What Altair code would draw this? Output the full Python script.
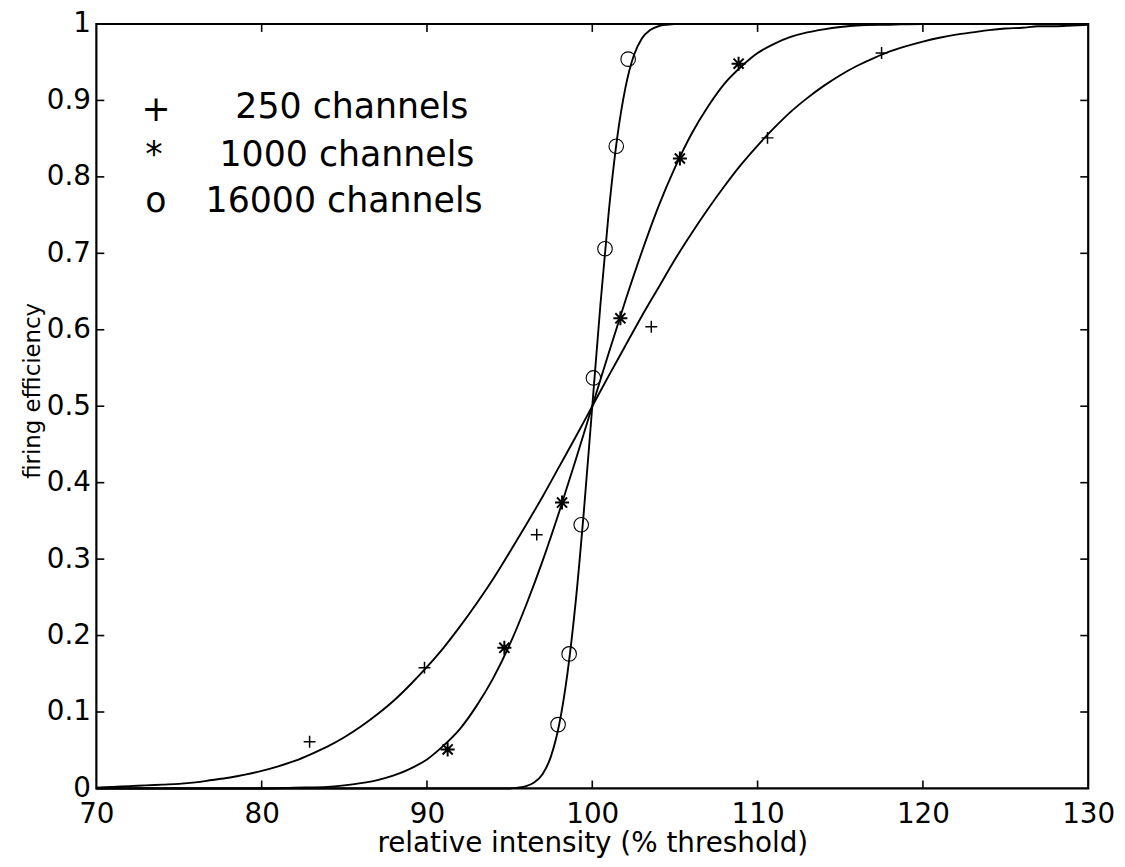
import altair as alt
import pandas as pd

# ---------------- values ----------------
series_names = ["250 channels", "1000 channels", "16000 channels"]
legend_symbols = ["+", "*", "o"]

x_tick_values = [70, 80, 90, 100, 110, 120, 130]
y_tick_values = [0, 0.1, 0.2, 0.3, 0.4, 0.5, 0.6, 0.7, 0.8, 0.9, 1.0]
inner_x_ticks = [80, 90, 100, 110, 120]
inner_y_ticks = [0.1, 0.2, 0.3, 0.4, 0.5, 0.6, 0.7, 0.8, 0.9]

# fitted curve, 250 channels
curve_x_250 = list(range(70, 131))
curve_y_250 = [0.001, 0.002, 0.003, 0.004, 0.005, 0.006, 0.008, 0.011, 0.014, 0.018,
               0.023, 0.029, 0.036, 0.045, 0.055, 0.067, 0.081, 0.097, 0.115, 0.136,
               0.159, 0.184, 0.212, 0.242, 0.274, 0.309, 0.345, 0.382, 0.421, 0.460,
               0.500, 0.540, 0.579, 0.618, 0.655, 0.692, 0.726, 0.758, 0.788, 0.816,
               0.841, 0.864, 0.885, 0.903, 0.919, 0.933, 0.945, 0.955, 0.964, 0.971,
               0.977, 0.982, 0.986, 0.989, 0.992, 0.994, 0.995, 0.997, 0.997, 0.998, 0.999]

# fitted curve, 1000 channels
curve_x_1000 = [70, 75, 80, 82, 84, 85, 86, 87, 88, 89, 90, 91, 92, 93, 94, 95, 96, 97,
                98, 99, 100, 101, 102, 103, 104, 105, 106, 107, 108, 109, 110, 111, 112,
                113, 114, 115, 116, 118, 120, 125, 130]
curve_y_1000 = [0.000, 0.000, 0.000, 0.001, 0.002, 0.004, 0.007, 0.011, 0.017, 0.026,
                0.038, 0.056, 0.078, 0.108, 0.144, 0.188, 0.240, 0.298, 0.362, 0.430,
                0.500, 0.570, 0.638, 0.702, 0.761, 0.812, 0.856, 0.892, 0.922, 0.944,
                0.962, 0.974, 0.983, 0.989, 0.993, 0.996, 0.998, 0.999, 1.000, 1.000, 1.000]

# fitted curve, 16000 channels
curve_x_16000 = [70, 94, 95, 95.5, 96, 96.5, 97, 97.5, 98, 98.5, 99, 99.5, 100, 100.5,
                 101, 101.5, 102, 102.5, 103, 103.5, 104, 104.5, 105, 106, 130]
curve_y_16000 = [0.000, 0.000, 0.000, 0.001, 0.003, 0.008, 0.019, 0.042, 0.084, 0.151,
                 0.245, 0.365, 0.500, 0.635, 0.755, 0.850, 0.916, 0.958, 0.981, 0.992,
                 0.997, 0.999, 1.000, 1.000, 1.000]

# measured points
pts_x_250 = [82.9, 89.85, 96.64, 103.57, 110.6, 117.5]
pts_y_250 = [0.061, 0.158, 0.332, 0.604, 0.851, 0.962]
pts_x_1000 = [91.25, 94.68, 98.17, 101.7, 105.3, 108.85]
pts_y_1000 = [0.051, 0.184, 0.374, 0.615, 0.824, 0.948]
pts_x_16000 = [97.93, 98.6, 99.33, 100.07, 100.77, 101.45, 102.17]
pts_y_16000 = [0.0835, 0.176, 0.345, 0.537, 0.706, 0.840, 0.954]

# ---------------- tables ----------------
curves = pd.concat([
    pd.DataFrame({"x": curve_x_250, "y": curve_y_250, "series": series_names[0]}),
    pd.DataFrame({"x": curve_x_1000, "y": curve_y_1000, "series": series_names[1]}),
    pd.DataFrame({"x": curve_x_16000, "y": curve_y_16000, "series": series_names[2]}),
], ignore_index=True)

pts250 = pd.DataFrame({"x": pts_x_250, "y": pts_y_250})
pts1000 = pd.DataFrame({"x": pts_x_1000, "y": pts_y_1000})
pts16000 = pd.DataFrame({"x": pts_x_16000, "y": pts_y_16000})

xticks_df = pd.DataFrame({"x": inner_x_ticks})
yticks_df = pd.DataFrame({"y": inner_y_ticks})

# ---------------- styling ----------------
W, H = 999, 770
FONT = "DejaVu Sans"
xs = alt.Scale(domain=[70, 130], nice=False, zero=False)
ys = alt.Scale(domain=[0, 1], nice=False, zero=False)

x_axis = alt.Axis(values=x_tick_values, title="relative intensity (% threshold)",
                  labelFlush=False, labelPadding=12, titleY=64,
                  titleBaseline="alphabetic", titleFontSize=28)
y_axis = alt.Axis(values=y_tick_values, title="firing efficiency", format=".1~f",
                  labelFlush=False, labelPadding=6, titleX=-52, titleY=369,
                  titleFontSize=23, titleAlign="center")

X = alt.X("x:Q", scale=xs, axis=x_axis)
Y = alt.Y("y:Q", scale=ys, axis=y_axis)

lines = alt.Chart(curves).mark_line(color="black", strokeWidth=1.9,
                                    interpolate="monotone").encode(
    x=X, y=Y, detail="series:N")

plus_marks = alt.Chart(pts250).mark_point(
    shape="M-1,0L1,0M0,-1L0,1", filled=False, stroke="black",
    strokeWidth=1.5, size=144, opacity=1).encode(x=X, y=Y)

star_marks = alt.Chart(pts1000).mark_point(
    shape="M-1,0L1,0M0,-1L0,1M-0.72,-0.72L0.72,0.72M-0.72,0.72L0.72,-0.72",
    filled=False, stroke="black", strokeWidth=2.0, size=200, opacity=1).encode(x=X, y=Y)

circle_marks = alt.Chart(pts16000).mark_point(
    shape="circle", filled=False, stroke="black", strokeWidth=1.1,
    size=215, opacity=1).encode(x=X, y=Y)

TICK = 8
tick_layers = [
    alt.Chart(xticks_df).mark_rule(color="black", strokeWidth=1.6).encode(
        x=X, y=alt.value(H), y2=alt.value(H - TICK)),
    alt.Chart(xticks_df).mark_rule(color="black", strokeWidth=1.6).encode(
        x=X, y=alt.value(0), y2=alt.value(TICK)),
    alt.Chart(yticks_df).mark_rule(color="black", strokeWidth=1.6).encode(
        y=Y, x=alt.value(0), x2=alt.value(TICK)),
    alt.Chart(yticks_df).mark_rule(color="black", strokeWidth=1.6).encode(
        y=Y, x=alt.value(W), x2=alt.value(W - TICK)),
]

# legend (text block in the upper left of the plot)
legend_rows_y = [84, 132, 178]
legend_text_x = [140, 124, 110]
legend_sym_x = [60, 58, 60]
legend_layers = []
for i in range(3):
    legend_layers.append(
        alt.Chart(pd.DataFrame({"t": [series_names[i]]})).mark_text(
            font=FONT, fontSize=35, align="left", baseline="middle", color="black").encode(
            x=alt.value(legend_text_x[i]), y=alt.value(legend_rows_y[i]), text="t:N"))
    legend_layers.append(
        alt.Chart(pd.DataFrame({"t": [legend_symbols[i]]})).mark_text(
            font=FONT, fontSize=35, align="center", baseline="middle", color="black").encode(
            x=alt.value(legend_sym_x[i]), y=alt.value(legend_rows_y[i] + (3 if i == 0 else 0)),
            text="t:N"))

chart = alt.layer(lines, plus_marks, star_marks, circle_marks, *tick_layers,
                  *legend_layers).properties(
    width=W, height=H,
    autosize=alt.AutoSizeParams(type="none"),
    padding={"left": 89, "top": 13, "right": 29, "bottom": 72},
    background="white",
).configure_view(
    stroke="black", strokeWidth=2.2
).configure_axis(
    labelFont=FONT, labelFontSize=28, labelColor="black",
    titleFont=FONT, titleColor="black", titleFontWeight="normal",
    domain=False, ticks=False, tickSize=0, grid=False,
)

chart.save("out.html", embed_options={"renderer": "svg", "actions": False})
